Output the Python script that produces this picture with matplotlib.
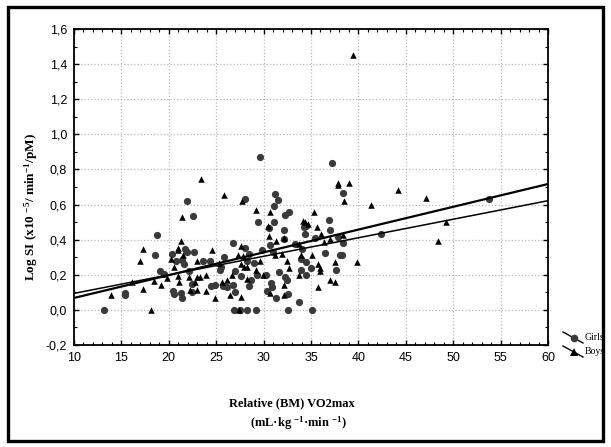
import numpy as np
import matplotlib
matplotlib.use("Agg")
import matplotlib.pyplot as plt
from matplotlib.lines import Line2D
from matplotlib.patches import Rectangle
from matplotlib.ticker import MultipleLocator, FixedLocator, FixedFormatter

# ---------------- data ----------------
girls_x = [13.2, 15.4, 15.4, 18.5, 18.8, 19.1, 19.5, 20.3, 20.4, 20.6,
           20.8, 21.3, 21.4, 21.4, 21.6, 21.7, 21.9, 21.9, 22.1, 22.4,
           22.4, 22.5, 22.7, 23.6, 24.3, 24.4, 24.9, 25.4, 25.5, 25.7,
           25.8, 26.1, 26.8, 26.8, 27.0, 26.9, 27.0, 27.5, 27.6, 28.0,
           28.0, 28.2, 28.3, 28.5, 28.5, 28.7, 29.0, 29.2, 29.3, 29.4,
           29.6, 29.8, 30.3, 30.4, 30.6, 30.7, 30.8, 30.9, 31.0, 31.1,
           31.1, 31.2, 31.3, 31.5, 31.6, 32.1, 32.2, 32.3, 32.3, 32.5,
           32.6, 32.6, 32.7, 33.3, 33.7, 33.9, 33.9, 34.1, 34.3, 34.4,
           34.5, 34.5, 34.5, 35.0, 35.1, 35.4, 36.5, 36.9, 37.0, 37.2,
           37.6, 37.8, 38.1, 38.3, 38.4, 38.4, 42.4, 53.8]
girls_y = [0.0, 0.087, 0.095, 0.31, 0.425, 0.22, 0.205, 0.32, 0.11, 0.09,
           0.28, 0.095, 0.07, 0.285, 0.26, 0.345, 0.33, 0.62, 0.22, 0.15,
           0.10, 0.535, 0.33, 0.28, 0.28, 0.135, 0.14, 0.23, 0.245, 0.135,
           0.30, 0.13, 0.38, 0.14, 0.10, 0.0, 0.22, 0.0, 0.195, 0.35,
           0.63, 0.0, 0.28, 0.32, 0.135, 0.17, 0.265, 0.0, 0.20, 0.50,
           0.87, 0.34, 0.20, 0.11, 0.465, 0.37, 0.155, 0.13, 0.33, 0.59,
           0.50, 0.66, 0.065, 0.625, 0.215, 0.405, 0.455, 0.54, 0.19, 0.17,
           0.0, 0.09, 0.555, 0.375, 0.045, 0.29, 0.225, 0.345, 0.47, 0.43,
           0.275, 0.20, 0.48, 0.24, 0.0, 0.41, 0.325, 0.51, 0.455, 0.835,
           0.23, 0.415, 0.31, 0.31, 0.665, 0.38, 0.435, 0.63]

boys_x = [13.9, 16.1, 17.0, 17.3, 17.3, 18.1, 18.4, 19.2, 19.8, 20.2,
          20.5, 21.0, 21.0, 21.0, 21.1, 21.3, 21.4, 21.5, 22.1, 22.2,
          22.8, 23.0, 23.0, 23.0, 23.3, 23.4, 23.9, 23.9, 24.6, 24.9,
          25.3, 25.6, 25.8, 26.1, 26.5, 26.7, 27.3, 27.4, 27.6, 27.6,
          27.6, 27.7, 27.8, 27.9, 28.2, 28.3, 29.2, 29.2, 29.6, 29.9,
          30.5, 30.6, 30.7, 30.7, 31.2, 31.3, 31.9, 32.1, 32.1, 32.2,
          32.5, 32.7, 33.7, 33.7, 33.9, 34.2, 34.4, 34.7, 35.1, 35.3,
          35.6, 35.7, 35.7, 35.9, 36.0, 36.1, 36.4, 37.0, 37.0, 37.5,
          37.5, 37.8, 37.8, 38.4, 38.5, 39.0, 39.4, 39.9, 41.3, 44.2,
          47.1, 48.4, 49.2]
boys_y = [0.087, 0.16, 0.28, 0.345, 0.12, 0.0, 0.165, 0.14, 0.18, 0.29,
          0.245, 0.34, 0.355, 0.195, 0.16, 0.395, 0.53, 0.315, 0.19, 0.115,
          0.16, 0.28, 0.115, 0.19, 0.185, 0.745, 0.11, 0.20, 0.34, 0.07,
          0.265, 0.16, 0.655, 0.17, 0.085, 0.20, 0.315, 0.0, 0.075, 0.365,
          0.26, 0.62, 0.305, 0.245, 0.245, 0.175, 0.57, 0.23, 0.28, 0.20,
          0.48, 0.42, 0.555, 0.095, 0.315, 0.39, 0.32, 0.41, 0.085, 0.14,
          0.28, 0.24, 0.375, 0.20, 0.315, 0.505, 0.50, 0.49, 0.31, 0.555,
          0.47, 0.13, 0.26, 0.22, 0.24, 0.435, 0.385, 0.405, 0.17, 0.275,
          0.16, 0.72, 0.71, 0.425, 0.62, 0.725, 1.452, 0.275, 0.60, 0.685,
          0.64, 0.395, 0.50]

# regression lines: value at x = 10 and at x = 60
fit_x = [10, 60]
girls_fit = [0.094, 0.622]
boys_fit = [0.068, 0.717]

x_ticks = [10, 15, 20, 25, 30, 35, 40, 45, 50, 55, 60]
y_ticks = [-0.2, 0.0, 0.2, 0.4, 0.6, 0.8, 1.0, 1.2, 1.4, 1.6]
y_tick_labels = ["-0,2", "0,0", "0,2", "0,4", "0,6", "0,8", "1,0", "1,2", "1,4", "1,6"]
legend_labels = ["Girls", "Boys"]

# ---------------- style ----------------
plt.rcParams['mathtext.fontset'] = 'custom'
plt.rcParams['mathtext.rm'] = 'Liberation Serif:bold'
plt.rcParams['mathtext.it'] = 'Liberation Serif:bold'
plt.rcParams['mathtext.bf'] = 'Liberation Serif:bold'

W, H = 611, 447
fig = plt.figure(figsize=(W / 100, H / 100), dpi=100)
fig.patch.set_facecolor('white')

def fx(px):
    return px / W

def fy(py):
    return 1 - py / H

ax = fig.add_axes([fx(74), fy(345), (548 - 74) / W, (345 - 29) / H])
ax.set_xlim(10, 60)
ax.set_ylim(-0.2, 1.6)

ax.grid(True, which='major', linestyle=':', color='#b8b8b8', linewidth=0.9)
ax.set_axisbelow(True)

girl_color = '#3a3a3a'
ax.scatter(girls_x, girls_y, s=27, marker='o', color=girl_color, linewidths=0, zorder=3)
ax.scatter(boys_x, boys_y, s=22, marker='^', color='black', linewidths=0, zorder=3)

ax.plot(fit_x, boys_fit, color='black', linewidth=1.6, zorder=4)
ax.plot(fit_x, girls_fit, color='black', linewidth=1.1, zorder=4)

ax.xaxis.set_major_locator(FixedLocator(x_ticks))
ax.xaxis.set_minor_locator(MultipleLocator(1))
ax.yaxis.set_major_locator(FixedLocator(y_ticks))
ax.yaxis.set_major_formatter(FixedFormatter(y_tick_labels))
ax.yaxis.set_minor_locator(MultipleLocator(0.1))

ax.tick_params(which='both', direction='in', top=True, right=True, colors='black')
ax.tick_params(which='major', length=3.5, width=1.0, labelsize=9, pad=5)
ax.tick_params(which='minor', length=2, width=0.8)
for lab in ax.get_xticklabels() + ax.get_yticklabels():
    lab.set_fontfamily('Liberation Sans')
ax.tick_params(axis='y', pad=5)

for sp in ax.spines.values():
    sp.set_linewidth(1.3)
    sp.set_color('black')

# axis labels
fig.text(fx(31), fy(207), r"Log SI (x10 $^{-5}$/ min$^{-1}$/pM)", rotation=90,
         ha='center', va='center', fontsize=9.5, fontweight='bold', family='Liberation Serif')
fig.text(fx(292), fy(403), "Relative (BM) VO2max", ha='center', va='center',
         fontsize=9, fontweight='bold', family='Liberation Serif')
fig.text(fx(298), fy(423), r"(mL·kg $^{-1}$·min $^{-1}$)", ha='center', va='center',
         fontsize=9, fontweight='bold', family='Liberation Serif')

# legend (manual, as in the original)
leg_rows = [(332, 343, 337.5, 'o', girl_color), (346, 357, 351.5, '^', 'black')]
for (y0, y1, ym, mk, col), lab in zip(leg_rows, legend_labels):
    fig.add_artist(Line2D([fx(563), fx(583)], [fy(y0), fy(y1)], color='black',
                          linewidth=1.0, transform=fig.transFigure))
    fig.add_artist(Line2D([fx(574)], [fy(ym)], marker=mk, markersize=5.5, color=col,
                          markeredgewidth=0, linestyle='none', transform=fig.transFigure))
    fig.text(fx(585), fy(ym), lab, ha='left', va='center', fontsize=7,
             family='Liberation Serif')

# outer frame
fig.add_artist(Rectangle((fx(8), fy(441)), (603 - 8) / W, (441 - 7) / H, fill=False,
                         edgecolor='black', linewidth=2.4, transform=fig.transFigure))

fig.savefig('out.png', dpi=100, facecolor='white')
